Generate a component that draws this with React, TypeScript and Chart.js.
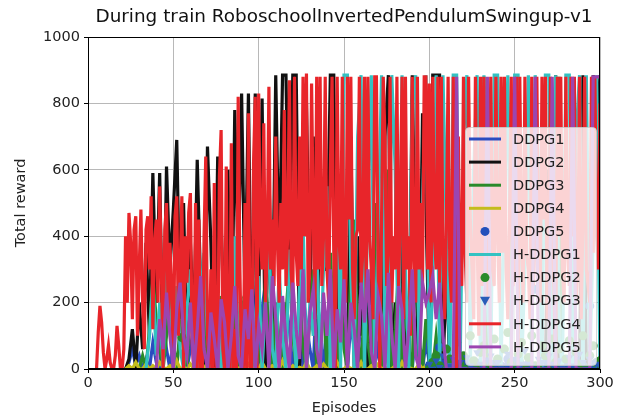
import React, { useEffect, useRef } from "react";
import { Chart, registerables } from "chart.js";
Chart.register(...registerables);

const FONT = "'DejaVu Sans', 'Liberation Sans', sans-serif";
const TITLE = "During train RoboschoolInvertedPendulumSwingup-v1";
const X_LABEL = "Episodes";
const Y_LABEL = "Total reward";
const xTicks = [0, 50, 100, 150, 200, 250, 300];
const yTicks = [0, 200, 400, 600, 800, 1000];

const N = null;

// every episode 0..300 (x grid for the per-episode series)
const episodesAll = Array.from({ length: 301 }, (_, i) => i);

// every second episode 0..300
const episodes = [
  0, 2, 4, 6, 8, 10, 12, 14, 16, 18,
  20, 22, 24, 26, 28, 30, 32, 34, 36, 38,
  40, 42, 44, 46, 48, 50, 52, 54, 56, 58,
  60, 62, 64, 66, 68, 70, 72, 74, 76, 78,
  80, 82, 84, 86, 88, 90, 92, 94, 96, 98,
  100, 102, 104, 106, 108, 110, 112, 114, 116, 118,
  120, 122, 124, 126, 128, 130, 132, 134, 136, 138,
  140, 142, 144, 146, 148, 150, 152, 154, 156, 158,
  160, 162, 164, 166, 168, 170, 172, 174, 176, 178,
  180, 182, 184, 186, 188, 190, 192, 194, 196, 198,
  200, 202, 204, 206, 208, 210, 212, 214, 216, 218,
  220, 222, 224, 226, 228, 230, 232, 234, 236, 238,
  240, 242, 244, 246, 248, 250, 252, 254, 256, 258,
  260, 262, 264, 266, 268, 270, 272, 274, 276, 278,
  280, 282, 284, 286, 288, 290, 292, 294, 296, 298,
  300,
];

const ddpg1 = [
  N, N, N, N, N, N, N, N, N, N,
  N, 0, 20, 60, 10, 40, 0, 30, 0, 80,
  20, 0, 150, 60, 0, 100, 180, 200, 120, 0,
  60, 130, 0, 90, 40, 0, 120, 210, 60, 0,
  150, 90, 0, 220, 130, 40, 0, 260, 300, 120,
  0, 180, 260, 100, 0, 150, 60, 0, 200, 120,
  0, 90, 180, 0, 140, 60, 0, 250, 100, 0,
  160, 60, 0, 200, 300, 100, 0, 140, 60, 0,
  180, 250, 80, 0, 120, 40, 0, 200, 100, 0,
  60, 150, 0, 90, 30, 0, 120, 50, 0, 80,
  20, 0, 40, 0, 20, 0, 10, 0, 5, 0,
  5, 0, 10, 0, 0, 15, 0, 5, 0, 0,
  10, 0, 0, 5, 0, 10, 0, 0, 15, 0,
  0, 5, 0, 10, 0, 0, 5, 0, 10, 0,
  5, 0, 0, 10, 0, 5, 0, 0, 10, 0,
  5,
];

const ddpg2 = [
  N, N, N, N, N, N, N, N, N, N,
  N, 0, 30, 120, 0, 200, 60, 380, 100, 590,
  200, 590, 0, 610, 300, 480, 690, 150, 500, 0,
  380, 120, 630, 250, 0, 670, 380, 0, 640, 440,
  100, 600, 0, 780, 300, 830, 200, 830, 0, 830,
  200, 815, 0, 600, 100, 885, 300, 885, 885, 300,
  885, 885, 0, 500, 800, 200, 700, 0, 600, 300,
  300, 885, 885, 0, 500, 200, 0, 700, 0, 400,
  100, 600, 0, 300, 0, 500, 0, 700, 885, 0,
  200, 0, 500, 100, 0, 885, 300, 0, 770, 500,
  0, 885, 885, 885, 0, 300, 0, 0, 0, 0,
  0, 0, 0, 0, 0, 0, 0, 0, 0, 0,
  0, 0, 0, 0, 0, 0, 0, 0, 0, 0,
  0, 0, 0, 0, 0, 600, 0, 885, 0, 0,
  0, 0, 0, 0, 0, 885, 0, 0, 885, 700,
  885,
];

const ddpg3 = [
  N, N, N, N, N, N, N, N, N, N,
  N, N, N, N, N, 0, 40, 0, 120, 280,
  150, 60, 0, 100, 250, 80, 0, 130, 60, 0,
  200, 110, 0, 90, 160, 0, 60, 140, 0, 220,
  100, 0, 60, 130, 0, 180, 220, 170, 0, 100,
  50, 0, 260, 120, 0, 200, 90, 0, 160, 320,
  100, 0, 230, 60, 0, 150, 300, 0, 100, 200,
  0, 350, 120, 0, 240, 60, 0, 300, 450, 100,
  0, 200, 80, 0, 500, 150, 0, 250, 600, 0,
  120, 300, 0, 200, 60, 0, 400, 100, 0, 150,
  50, 0, 100, 0, 20, 0, 10, 30, 0, 10,
  0, 20, 0, 10, 0, 30, 880, 0, 20, 0,
  10, 0, 0, 20, 0, 10, 0, 30, 0, 0,
  20, 0, 10, 0, 0, 20, 0, 10, 880, 30,
  0, 10, 0, 20, 0, 0, 10, 0, 20, 0,
  10,
];

const ddpg4 = [
  N, N, N, N, N, N, N, N, N, N,
  N, 0, 10, 0, 20, 0, 0, 15, 0, 10,
  0, 20, 5, 0, 10, 0, 25, 0, 5, 0,
  15, 0, 0, 10, 0, 20, 5, 0, 0, 10,
  0, 5, 20, 0, 0, 10, 0, 15, 0, 5,
  0, 20, 0, 0, 10, 5, 0, 25, 0, 0,
  10, 0, 5, 0, 20, 0, 0, 10, 0, 15,
  0, 5, 0, 20, 0, 0, 10, 0, 5, 0,
  20, 0, 0, 10, 0, 15, 0, 5, 0, 0,
  10, 0, 20, 0, 5, 0, 0, 15, 0, 10,
  0, 5, 0, 20, 0, 10, 0, 0, 15, 0,
  5, 0, 10, 0, 0, 20, 0, 5, 0, 15,
  0, 10, 0, 0, 20, 0, 5, 0, 10, 0,
  15, 0, 0, 10, 0, 5, 0, 20, 0, 0,
  10, 0, 5, 0, 15, 0, 0, 10, 0, 20,
  0,
];

const hddpg1 = [
  N, N, N, N, N, N, N, N, N, N,
  N, N, N, N, N, N, N, 0, 100, 270,
  40, 200, 0, 330, 150, 0, 250, 60, 0, 180,
  300, 40, 0, 220, 350, 100, 0, 260, 60, 0,
  300, 180, 0, 400, 100, 0, 250, 330, 0, 150,
  280, 0, 200, 420, 60, 0, 300, 100, 0, 360,
  150, 0, 250, 450, 0, 200, 100, 380, 0, 300,
  550, 0, 200, 600, 0, 885, 885, 300, 0, 700,
  885, 0, 500, 885, 0, 400, 885, 100, 0, 885,
  600, 0, 885, 300, 0, 800, 885, 0, 500, 885,
  0, 250, 885, 0, 885, 400, 0, 885, 885, 0,
  700, 885, 0, 600, 885, 0, 885, 200, 0, 885,
  885, 0, 500, 885, 0, 885, 885, 0, 300, 885,
  0, 885, 600, 0, 885, 885, 0, 885, 100, 0,
  885, 885, 0, 700, 885, 0, 885, 0, 400, 885,
  0,
];

// H-DDPG4, one value per episode (rows of 20 episodes)
const hddpg4 = [
  N, N, N, N, N, 0, 110, 190, 140, 50, 0, 30, 70, 20, 0, 0, 40, 130, 70, 0,
  0, 60, 400, 200, 470, 380, 150, 420, 460, 100, 300, 480, 200, 60, 420, 460, 300, 520, 120, 380,
  450, 200, 550, 300, 0, 420, 500, 150, 380, 250, 0, 460, 520, 100, 300, 520, 0, 400, 260, 470,
  530, 80, 0, 500, 0, 450, 0, 0, 400, 640, 100, 0, 300, 0, 560, 0, 0, 580, 720, 60,
  0, 610, 0, 0, 680, 0, 120, 0, 820, 300, 0, 0, 500, 0, 770, 0, 0, 620, 820, 0,
  830, 400, 300, 740, 200, 350, 850, 300, 450, 250, 700, 380, 200, 500, 300, 780, 250, 400, 870, 300,
  200, 880, 350, 250, 700, 300, 880, 400, 890, 200, 300, 860, 450, 150, 880, 300, 880, 250, 400, 880,
  300, 200, 600, 880, 350, 0, 880, 400, 300, 880, 250, 200, 880, 450, 880, 300, 150, 400, 420, 880,
  250, 350, 880, 200, 880, 400, 300, 150, 880, 880, 300, 0, 450, 880, 700, 250, 350, 880, 200, 400,
  300, 880, 250, 450, 880, 150, 880, 300, 400, 100, 880, 350, 200, 880, 300, 500, 250, 880, 880, 300,
  860, 200, 880, 400, 300, 880, 250, 880, 350, 150, 450, 880, 300, 200, 880, 400, 0, 700, 300, 250,
  880, 350, 200, 880, 450, 300, 150, 880, 400, 100, 880, 250, 880, 350, 200, 500, 880, 300, 250, 880,
  400, 200, 880, 350, 880, 300, 150, 450, 880, 250, 300, 880, 50, 880, 400, 200, 880, 350, 300, 150,
  880, 250, 400, 880, 300, 200, 880, 450, 880, 150, 300, 880, 350, 250, 0, 880, 400, 880, 300, 200,
  880, 350, 250, 880, 400, 880, 200, 300, 880, 150, 450, 880, 300, 250, 200, 880, 350, 880, 400, 300,
  800,
];

const hddpg5 = [
  N, N, N, N, N, N, N, N, N, N,
  N, N, N, N, N, N, N, N, N, 0,
  0, 150, 60, 230, 100, 0, 180, 260, 100, 40,
  200, 0, 120, 280, 60, 0, 170, 90, 0, 210,
  140, 0, 100, 250, 40, 0, 180, 90, 240, 0,
  130, 60, 200, 0, 280, 150, 0, 220, 90, 0,
  260, 120, 30, 300, 0, 170, 240, 60, 0, 230,
  100, 300, 0, 180, 80, 270, 0, 200, 120, 0,
  260, 140, 300, 50, 0, 220, 160, 0, 290, 100,
  0, 250, 180, 0, 120, 300, 40, 0, 260, 200,
  230, 280, 150, 260, 100, 0, 0, 0, 880, 0,
  0, 0, 0, 0, 0, 0, 0, 880, 0, 0,
  0, 0, 0, 0, 0, 880, 0, 0, 0, 0,
  0, 880, 0, 0, 0, 0, 880, 0, 0, 0,
  0, 0, 880, 0, 0, 0, 0, 0, 880, 880,
  880,
];

// marker-only series
const markerEpisodes = [
  200, 202, 204, 206, 208, 210, 212, 214, 216, 218,
  220, 222, 224, 226, 228, 230, 232, 234, 236, 238,
  240, 242, 244, 246, 248, 250, 252, 254, 256, 258,
  260, 262, 264, 266, 268, 270, 272, 274, 276, 278,
  280, 282, 284, 286, 288, 290, 292, 294, 296, 298,
  300,
];

const ddpg5 = [
  10, 5, 0, 65, 15, 0, 8, 20, 0, 12,
  5, 25, 0, 10, 18, 3, 0, 22, 8, 15,
  0, 10, 5, 30, 0, 12, 20, 4, 0, 15,
  8, 240, 0, 10, 18, 5, 0, 12, 20, 3,
  8, 0, 15, 25, 5, 10, 0, 190, 12, 20,
  5,
];

const hddpg2Early = [55, 93];
const hddpg2EarlyValues = [95, 215];
const hddpg2 = [
  0, 20, 40, 10, 0, 60, 30, 0, 80, 15,
  40, 0, 100, 25, 0, 50, 70, 10, 0, 90,
  30, 0, 60, 110, 20, 0, 45, 80, 0, 35,
  100, 10, 0, 70, 40, 0, 90, 20, 60, 0,
  30, 85, 0, 50, 15, 100, 0, 40, 70, 0,
  25,
];

const hddpg3 = [
  15, 0, 25, 5, 40, 0, 10, 30, 0, 20,
  0, 35, 10, 0, 50, 15, 0, 25, 40, 0,
  20, 5, 0, 45, 10, 30, 0, 15, 55, 0,
  10, 0, 30, 20, 0, 40, 15, 0, 25, 5,
  0, 35, 10, 0, 45, 20, 0, 30, 0, 15,
  10,
];

const COLORS = {
  ddpg1: "#2a4cc0",
  ddpg2: "#111111",
  ddpg3: "#2a8a2a",
  ddpg4: "#c4bc1c",
  ddpg5: "#2250bb",
  hddpg1: "#33c2c2",
  hddpg2: "#2a8a2a",
  hddpg3: "#2a5cb8",
  hddpg4: "#e8252a",
  hddpg5: "#9b45b0",
};

type Series = {
  label: string;
  xs: number[];
  ys: (number | null)[];
  color: string;
  kind: "line" | "circle" | "tri";
};

const SERIES: Series[] = [
  { label: "DDPG1", xs: episodes, ys: ddpg1, color: COLORS.ddpg1, kind: "line" },
  { label: "DDPG2", xs: episodes, ys: ddpg2, color: COLORS.ddpg2, kind: "line" },
  { label: "DDPG3", xs: episodes, ys: ddpg3, color: COLORS.ddpg3, kind: "line" },
  { label: "DDPG4", xs: episodes, ys: ddpg4, color: COLORS.ddpg4, kind: "line" },
  { label: "DDPG5", xs: markerEpisodes, ys: ddpg5, color: COLORS.ddpg5, kind: "circle" },
  { label: "H-DDPG1", xs: episodes, ys: hddpg1, color: COLORS.hddpg1, kind: "line" },
  {
    label: "H-DDPG2",
    xs: hddpg2Early.concat(markerEpisodes),
    ys: (hddpg2EarlyValues as (number | null)[]).concat(hddpg2),
    color: COLORS.hddpg2,
    kind: "circle",
  },
  { label: "H-DDPG3", xs: markerEpisodes, ys: hddpg3, color: COLORS.hddpg3, kind: "tri" },
  { label: "H-DDPG4", xs: episodesAll, ys: hddpg4, color: COLORS.hddpg4, kind: "line" },
  { label: "H-DDPG5", xs: episodes, ys: hddpg5, color: COLORS.hddpg5, kind: "line" },
];

const toPoints = (xs: number[], ys: (number | null)[]) =>
  xs.map((x, i) => ({ x, y: ys[i] === undefined ? null : ys[i] }));

const titlePlugin = {
  id: "mplTitle",
  afterDraw(chart: any) {
    const { ctx, chartArea: ca } = chart;
    ctx.save();
    ctx.fillStyle = "#111";
    ctx.font = `18.4px ${FONT}`;
    ctx.textAlign = "center";
    ctx.textBaseline = "middle";
    ctx.fillText(TITLE, (ca.left + ca.right) / 2, 17);
    ctx.restore();
  },
};

const framePlugin = {
  id: "mplFrame",
  afterDatasetsDraw(chart: any) {
    const { ctx, chartArea: ca } = chart;
    ctx.save();
    ctx.strokeStyle = "#000";
    ctx.lineWidth = 1;
    ctx.strokeRect(ca.left + 0.5, ca.top + 0.5, ca.right - ca.left - 1, ca.bottom - ca.top - 1);
    ctx.restore();
  },
};

const legendPlugin = {
  id: "mplLegend",
  afterDraw(chart: any) {
    const { ctx, chartArea: ca } = chart;
    const w = 131;
    const h = 238;
    const x0 = ca.right - 4 - w;
    const y0 = ca.bottom - 4 - h;
    ctx.save();
    ctx.beginPath();
    ctx.roundRect(x0 + 0.5, y0 + 0.5, w, h, 4);
    ctx.fillStyle = "rgba(255,255,255,0.8)";
    ctx.fill();
    ctx.strokeStyle = "rgba(204,204,204,0.8)";
    ctx.lineWidth = 1;
    ctx.stroke();
    ctx.font = `14.5px ${FONT}`;
    ctx.textBaseline = "middle";
    ctx.textAlign = "left";
    SERIES.forEach((s, i) => {
      const cy = y0 + 12 + i * 23.1;
      const hx0 = x0 + 4;
      const hx1 = x0 + 36;
      const cx = (hx0 + hx1) / 2;
      ctx.fillStyle = s.color;
      ctx.strokeStyle = s.color;
      if (s.kind === "line") {
        ctx.lineWidth = 3;
        ctx.beginPath();
        ctx.moveTo(hx0, cy);
        ctx.lineTo(hx1, cy);
        ctx.stroke();
      } else if (s.kind === "circle") {
        ctx.beginPath();
        ctx.arc(cx, cy, 4.5, 0, Math.PI * 2);
        ctx.fill();
      } else {
        ctx.beginPath();
        ctx.moveTo(cx - 5, cy - 4);
        ctx.lineTo(cx + 5, cy - 4);
        ctx.lineTo(cx, cy + 5);
        ctx.closePath();
        ctx.fill();
      }
      ctx.fillStyle = "#222";
      ctx.fillText(s.label, x0 + 48, cy + 1);
    });
    ctx.restore();
  },
};

export default function App() {
  const ref = useRef<HTMLCanvasElement | null>(null);
  useEffect(() => {
    if (!ref.current) return;
    Chart.defaults.font.family = FONT;
    const datasets = SERIES.map((s, i) => {
      const isLine = s.kind === "line";
      return {
        label: s.label,
        data: toPoints(s.xs, s.ys),
        borderColor: s.color,
        backgroundColor: s.color,
        borderWidth: isLine ? 3.2 : 0,
        showLine: isLine,
        pointRadius: isLine ? 0 : 4.5,
        pointStyle: s.kind === "tri" ? "triangle" : "circle",
        rotation: s.kind === "tri" ? 180 : 0,
        tension: 0,
        spanGaps: false,
        clip: 0,
        order: SERIES.length - 1 - i,
      };
    });
    const chart = new Chart(ref.current, {
      type: "line",
      data: { datasets: datasets as any },
      options: {
        animation: false,
        responsive: true,
        maintainAspectRatio: false,
        layout: { padding: { left: 0, right: 22, top: 37, bottom: 0 } },
        plugins: { legend: { display: false }, tooltip: { enabled: false } },
        scales: {
          x: {
            type: "linear",
            min: 0,
            max: 300,
            afterBuildTicks: (s: any) => {
              s.ticks = xTicks.map((v) => ({ value: v }));
            },
            afterFit: (s: any) => {
              s.height = 48;
            },
            ticks: {
              color: "#222",
              font: { size: 14.5 },
              padding: 2,
              maxRotation: 0,
              autoSkip: false,
              callback: (v: any) => String(v),
            },
            grid: { color: "#b8b8b8", lineWidth: 1, tickColor: "#000", tickLength: 4 },
            border: { display: true, color: "#000", width: 1 },
            title: { display: true, text: X_LABEL, color: "#222", font: { size: 14.5 }, padding: { top: 0, bottom: 0 } },
          },
          y: {
            type: "linear",
            min: 0,
            max: 1000,
            afterBuildTicks: (s: any) => {
              s.ticks = yTicks.map((v) => ({ value: v }));
            },
            afterFit: (s: any) => {
              s.width = 88;
            },
            ticks: {
              color: "#222",
              font: { size: 14.5 },
              padding: 4,
              autoSkip: false,
              callback: (v: any) => String(v),
            },
            grid: { color: "#b8b8b8", lineWidth: 1, tickColor: "#000", tickLength: 4 },
            border: { display: true, color: "#000", width: 1 },
            title: { display: true, text: Y_LABEL, color: "#222", font: { size: 14.5 }, padding: { top: 13, bottom: 0 } },
          },
        },
      },
      plugins: [framePlugin, titlePlugin, legendPlugin],
    });
    return () => chart.destroy();
  }, []);
  return (
    <div style={{ position: "fixed", left: 0, top: 0, width: 622, height: 417, background: "#fff" }}>
      <canvas ref={ref} />
    </div>
  );
}
